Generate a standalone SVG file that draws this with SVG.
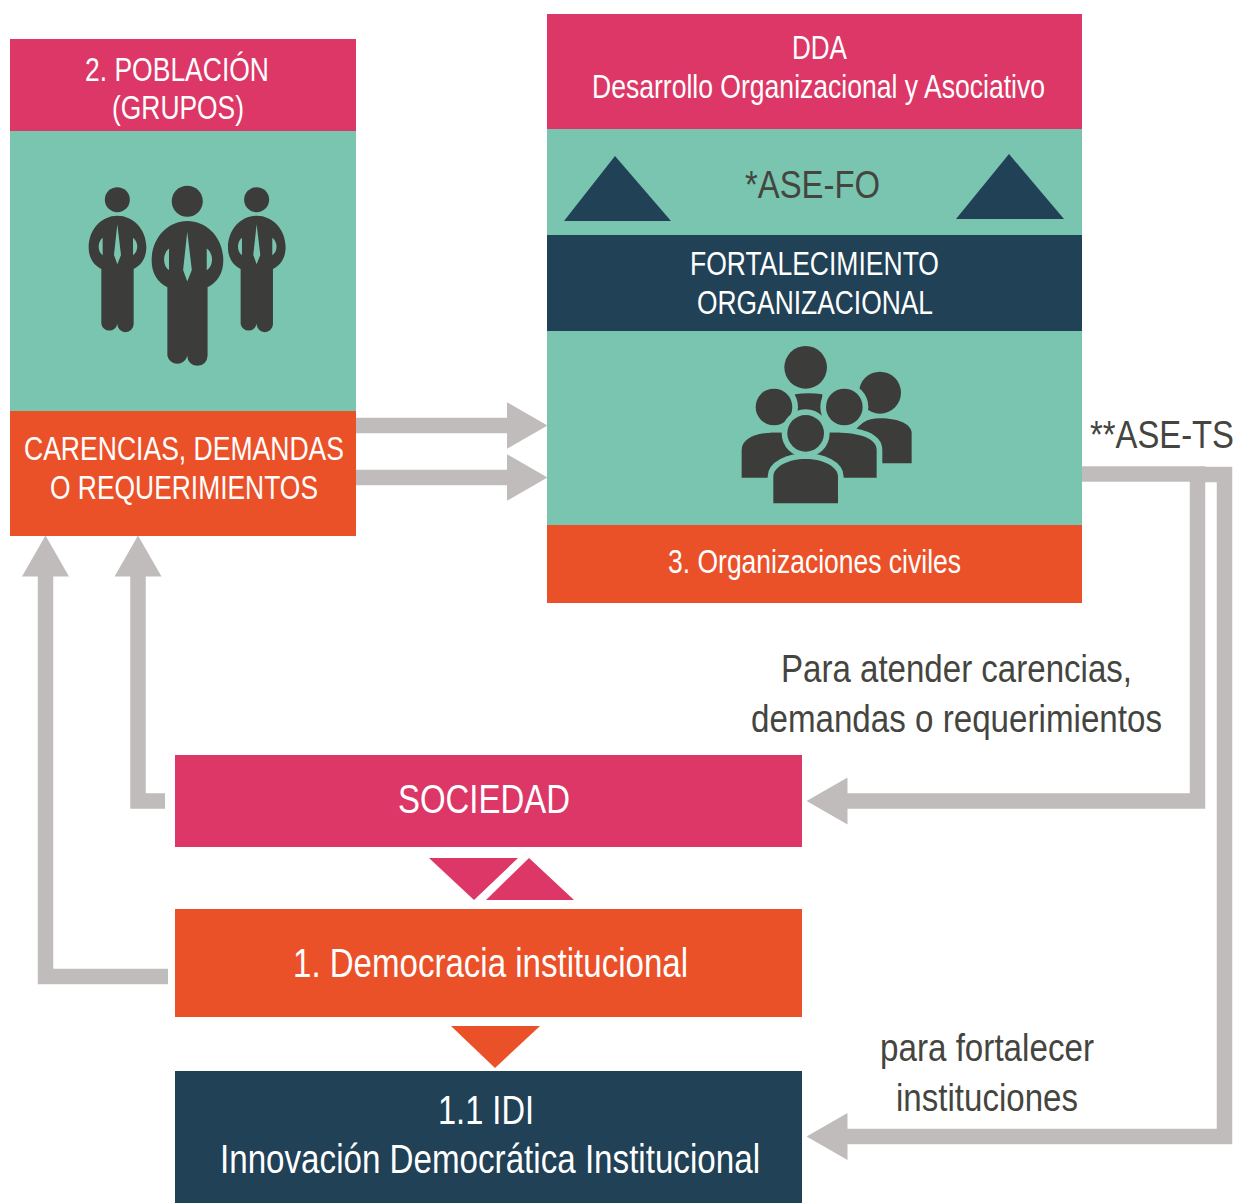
<svg xmlns="http://www.w3.org/2000/svg" width="1237" height="1203" viewBox="0 0 1237 1203">
<style>
.pink{fill:#dc3766}.teal{fill:#79c5b0}.orange{fill:#eb5129}.navy{fill:#204156}.dark{fill:#3c3c3b}
text{font-family:"Liberation Sans Narrow","Liberation Sans",Arial,sans-serif;text-anchor:start}
.w{fill:#fff;font-size:33px}.d{fill:#45453f;font-size:38px}.wl{fill:#fff;font-size:40px}
.c{fill:none;stroke:#c1bcbc;stroke-width:15.5;marker-end:url(#head)}
.c0{fill:none;stroke:#c1bcbc;stroke-width:15.5}
.o{fill:#3c3c3b;stroke:#79c5b0;stroke-width:34;paint-order:stroke}
</style>
<defs>
<marker id="head" markerUnits="userSpaceOnUse" markerWidth="41" markerHeight="47" viewBox="0 0 41 47" refX="0.5" refY="23.5" orient="auto"><path d="M0 0L41 23.500L0 47Z" fill="#c1bcbc"/></marker>
<g id="man">
<circle cx="172" cy="89" r="37.5" class="dark"/>
<path class="dark" fill-rule="evenodd" d="M124 297C100 285 86 262 86 232C86 178 125 137 172 137C220 137 259 178 259 232C259 262 245 285 221 297V462A24.500 24.500 0 0 1 172 462A24.500 24.500 0 0 1 124 462ZM128 203C112 215 112 245 128 256ZM219 203V256C236 245 236 215 219 203ZM172 163L162 255L172 283L183 255Z"/>
</g>
</defs>
<g id="connectors">
<path class="c" d="M356 425.500H507"/>
<path class="c" d="M356 477.500H507"/>
<path class="c" d="M168 976.500H45.500V576"/>
<path class="c" d="M165 801H138V576"/>
<path class="c0" d="M1082 474H1205"/>
<path class="c" d="M1197.500 474V801H847"/>
<path class="c" d="M1200 474.500H1224.500V1136.500H847"/>
</g>
<g id="node-poblacion">
<rect x="10" y="39" width="346" height="92" class="pink"/>
<rect x="10" y="131" width="346" height="280" class="teal"/>
<rect x="10" y="411" width="346" height="125" class="orange"/>
<text class="w" x="85" y="81" textLength="184" lengthAdjust="spacingAndGlyphs">2. POBLACIÓN</text>
<text class="w" x="112" y="119" textLength="132" lengthAdjust="spacingAndGlyphs">(GRUPOS)</text>
<use href="#man" transform="translate(60 170) scale(.3333)"/>
<use href="#man" transform="translate(199.300 170) scale(.3333)"/>
<use href="#man" transform="translate(116 164.300) scale(.4143)"/>
<text class="w" x="24" y="460" textLength="320" lengthAdjust="spacingAndGlyphs">CARENCIAS, DEMANDAS</text>
<text class="w" x="50" y="499" textLength="268" lengthAdjust="spacingAndGlyphs">O REQUERIMIENTOS</text>
</g>
<g id="node-dda">
<rect x="547" y="14" width="535" height="115" class="pink"/>
<rect x="547" y="129" width="535" height="396" class="teal"/>
<rect x="547" y="235" width="535" height="96" class="navy"/>
<rect x="547" y="525" width="535" height="78" class="orange"/>
<text class="w" x="792" y="59" textLength="55" lengthAdjust="spacingAndGlyphs">DDA</text>
<text class="w" x="592" y="98" textLength="453" lengthAdjust="spacingAndGlyphs">Desarrollo Organizacional y Asociativo</text>
<polygon class="navy" points="564,221 615,156 671,221"/>
<polygon class="navy" points="956,219 1009,154 1064,219"/>
<text class="d" x="745" y="198" textLength="135" lengthAdjust="spacingAndGlyphs">*ASE-FO</text>
<text class="w" x="690" y="275" textLength="249" lengthAdjust="spacingAndGlyphs">FORTALECIMIENTO</text>
<text class="w" x="697" y="314" textLength="236" lengthAdjust="spacingAndGlyphs">ORGANIZACIONAL</text>
<g transform="translate(720 335) scale(.3333)">
<circle cx="480" cy="173" r="63" class="dark"/>
<path class="dark" d="M400 300Q420 250 480 250C540 250 575 270 575 295V385H400Z"/>
<circle cx="257" cy="97" r="64" class="dark"/>
<path class="dark" d="M225 178Q266 172 307 178V250H225Z"/>
<path class="o" d="M65 428V345C65 310 110 293 160 293H257V428Z"/>
<path class="o" d="M257 293H350C420 293 470 310 470 345V428H257Z"/>
<path class="dark" d="M150 293H360V428H150Z"/>
<circle cx="162" cy="216" r="55" class="o"/>
<circle cx="373" cy="216" r="55" class="o"/>
<circle cx="257" cy="295" r="55" class="o"/>
<path class="o" d="M160 505V425C160 395 205 372 257 372C309 372 354 395 354 425V505Z"/>
</g>
<text class="w" x="668" y="573" textLength="293" lengthAdjust="spacingAndGlyphs">3. Organizaciones civiles</text>
</g>
<g id="node-sociedad">
<rect x="175" y="755" width="627" height="92" class="pink"/>
<text class="wl" x="398" y="813" textLength="172" lengthAdjust="spacingAndGlyphs">SOCIEDAD</text>
</g>
<g id="triangles-sociedad">
<polygon class="pink" points="429,858 518,858 474,900"/>
<polygon class="pink" points="486,900 529,858 574,900"/>
</g>
<g id="node-democracia">
<rect x="175" y="909" width="627" height="108" class="orange"/>
<text class="wl" x="293" y="977" textLength="395" lengthAdjust="spacingAndGlyphs">1. Democracia institucional</text>
</g>
<polygon id="triangle-democracia" class="orange" points="451,1026 540,1026 495,1068"/>
<g id="node-idi">
<rect x="175" y="1071" width="627" height="132" class="navy"/>
<text class="wl" x="438" y="1124" textLength="96" lengthAdjust="spacingAndGlyphs">1.1 IDI</text>
<text class="wl" x="220" y="1173" textLength="540" lengthAdjust="spacingAndGlyphs">Innovación Democrática Institucional</text>
</g>
<g id="labels">
<text class="d" x="1090" y="448" textLength="144" lengthAdjust="spacingAndGlyphs">**ASE-TS</text>
<text class="d" x="781" y="682" textLength="351" lengthAdjust="spacingAndGlyphs">Para atender carencias,</text>
<text class="d" x="751" y="732" textLength="411" lengthAdjust="spacingAndGlyphs">demandas o requerimientos</text>
<text class="d" x="880" y="1061" textLength="214" lengthAdjust="spacingAndGlyphs">para fortalecer</text>
<text class="d" x="896" y="1111" textLength="182" lengthAdjust="spacingAndGlyphs">instituciones</text>
</g>
</svg>
